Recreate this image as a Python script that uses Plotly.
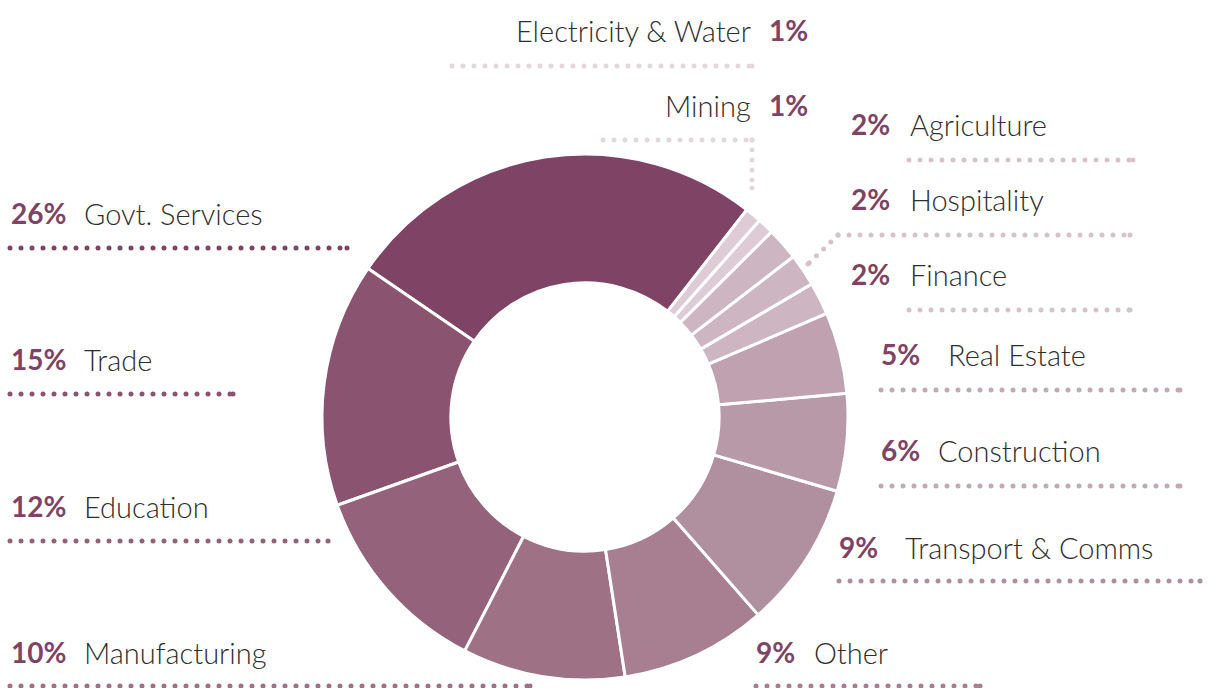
import numpy as np
import plotly.graph_objects as go

W, H = 1208, 688

# ---- data (in drawing order, counter-clockwise from the top-right start) ----
sectors = ["Govt. Services", "Trade", "Education", "Manufacturing", "Other",
           "Transport & Comms", "Construction", "Real Estate", "Finance",
           "Hospitality", "Agriculture", "Mining", "Electricity & Water"]
shares = [26, 15, 12, 10, 9, 9, 6, 5, 2, 2, 2, 1, 1]
colors = ["#7F4465", "#8A5470", "#95627B", "#9E7185", "#A87F91",
          "#B0909F", "#B899A7", "#BFA1AF", "#CDB6C1",
          "#CDB6C1", "#CDB6C1", "#DDCCD5", "#DDCCD5"]
dot_colors = ["#7F4465", "#8A5470", "#95627B", "#9E7185", "#A87F91",
              "#B0909F", "#C3A8B5", "#C3A8B5", "#D6C3CC",
              "#D6C3CC", "#D6C3CC", "#E3D6DC", "#E3D6DC"]

# ---- label layout (pixel positions) ----
layout_spec = {
    "Govt. Services":      dict(side="L", px=9, tx=82, y=213, lx0=10, lx1=347, ly=248),
    "Trade":               dict(side="L", px=9, tx=82, y=359, lx0=10, lx1=233, ly=394),
    "Education":           dict(side="L", px=9, tx=82, y=506, lx0=10, lx1=328, ly=541),
    "Manufacturing":       dict(side="L", px=9, tx=82, y=652, lx0=10, lx1=530, ly=686),
    "Other":               dict(side="L", px=754, tx=812, y=652, lx0=756, lx1=980, ly=686),
    "Transport & Comms":   dict(side="L", px=837, tx=903, y=547, lx0=839, lx1=1200, ly=581),
    "Construction":        dict(side="L", px=879, tx=936, y=450, lx0=881, lx1=1180, ly=486),
    "Real Estate":         dict(side="L", px=879, tx=946, y=354, lx0=881, lx1=1180, ly=390),
    "Finance":             dict(side="L", px=849, tx=908, y=274, lx0=909, lx1=1130, ly=310),
    "Hospitality":         dict(side="L", px=849, tx=908, y=199, lx0=838, lx1=1130, ly=235,
                                leader=[(838, 235), (808, 264)]),
    "Agriculture":         dict(side="L", px=849, tx=908, y=124, lx0=909, lx1=1133, ly=160),
    "Mining":              dict(side="R", px=767, tx=753, y=105, lx0=603, lx1=752, ly=140,
                                leader=[(752, 140), (752, 188)]),
    "Electricity & Water": dict(side="R", px=767, tx=753, y=30, lx0=452, lx1=752, ly=66),
}

LABEL_FONT = dict(family="Lato, 'Open Sans', sans-serif", size=29, color="#2E2E2E", weight=300)
PCT_FONT = dict(family="Lato, 'Open Sans', sans-serif", size=28, color="#7F4465", weight=700)

# pie geometry (pixels)
cx, cy, R = 585, 417, 263
start_angle = 38  # clockwise from 12 o'clock, where the first slice ends

fig = go.Figure()
fig.add_trace(go.Pie(
    labels=sectors, values=shares, sort=False, direction="counterclockwise",
    rotation=start_angle - shares[0] * 3.6, hole=0.51,
    marker=dict(colors=colors, line=dict(color="white", width=3)),
    textinfo="none", hoverinfo="skip", showlegend=False,
    domain=dict(x=[(cx - R) / W, (cx + R) / W],
                y=[(H - cy - R) / H, (H - cy + R) / H]),
))

annotations = []
for name, val, dc in zip(sectors, shares, dot_colors):
    s = layout_spec[name]
    xs = list(np.arange(s["lx0"], s["lx1"], 11.0)) + [s["lx1"]]
    ys = [s["ly"]] * len(xs)
    if "leader" in s:
        (ax0, ay0), (ax1, ay1) = s["leader"]
        L = np.hypot(ax1 - ax0, ay1 - ay0)
        t = np.arange(0, L, 10.0) / L
        xs += list(ax0 + (ax1 - ax0) * t) + [ax1]
        ys += list(ay0 + (ay1 - ay0) * t) + [ay1]
    fig.add_trace(go.Scatter(x=xs, y=ys, mode="markers",
                             marker=dict(size=5, color=dc, line=dict(width=0)),
                             hoverinfo="skip", showlegend=False, cliponaxis=False))
    annotations.append(dict(x=s["px"], y=s["y"], text=f"{val}%", xanchor="left",
                            yanchor="middle", showarrow=False, font=PCT_FONT))
    annotations.append(dict(x=s["tx"], y=s["y"], text=name,
                            xanchor="left" if s["side"] == "L" else "right",
                            yanchor="middle", showarrow=False, font=LABEL_FONT))

for a in annotations:
    a["xref"] = "x"
    a["yref"] = "y"

fig.update_layout(
    width=W, height=H,
    margin=dict(l=0, r=0, t=0, b=0),
    paper_bgcolor="white", plot_bgcolor="rgba(0,0,0,0)",
    xaxis=dict(range=[0, W], visible=False, fixedrange=True, domain=[0, 1]),
    yaxis=dict(range=[H, 0], visible=False, fixedrange=True, domain=[0, 1]),
    annotations=annotations,
    showlegend=False,
)

fig.write_html("out.html", config=dict(displayModeBar=False),
               post_script="document.body.style.margin='0px';")
